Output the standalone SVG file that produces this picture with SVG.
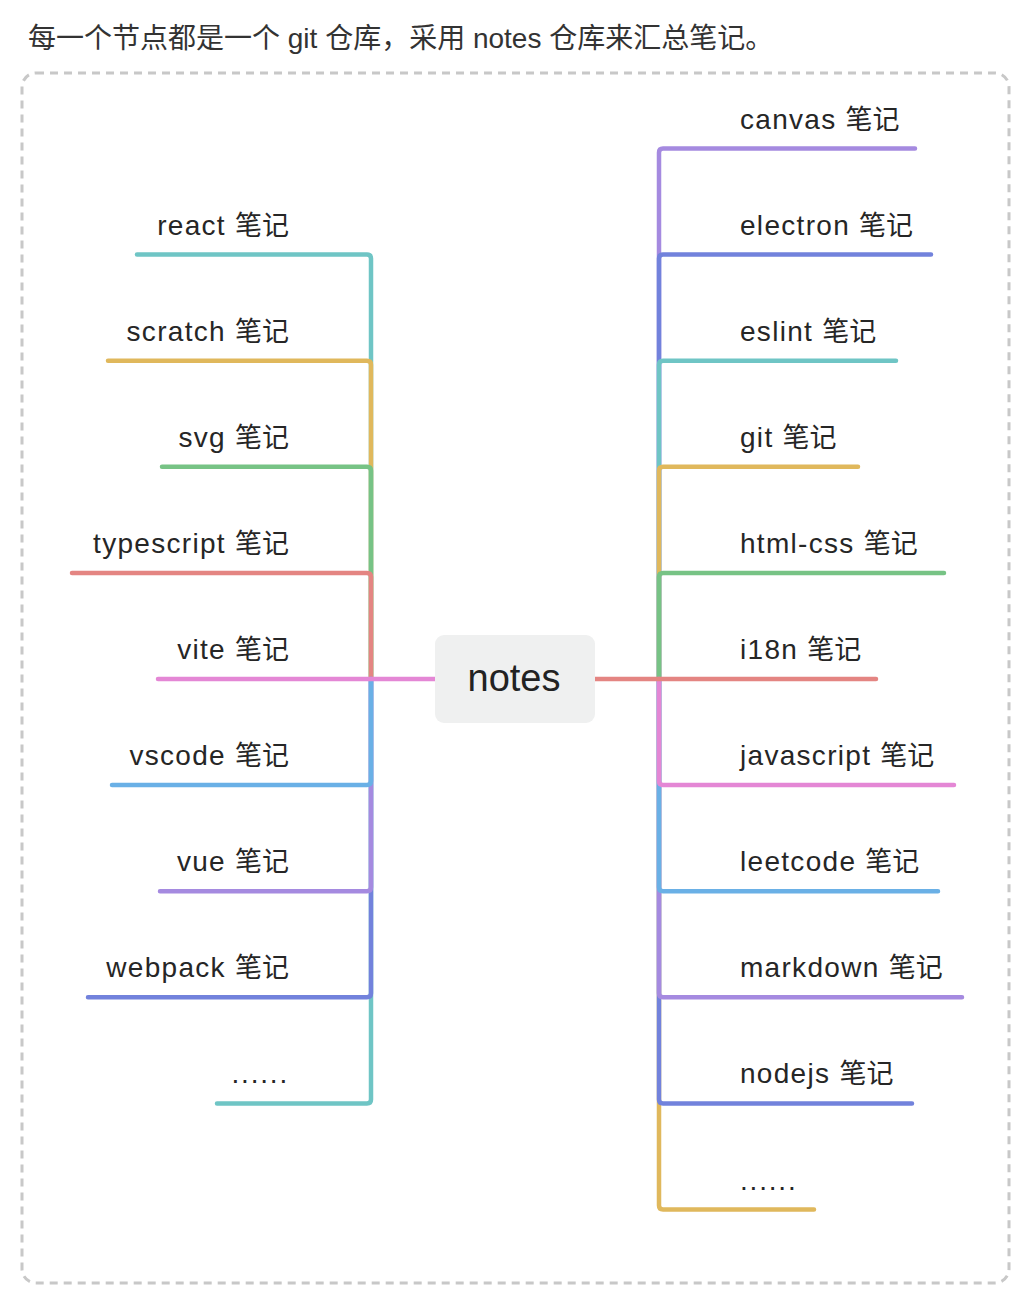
<svg xmlns="http://www.w3.org/2000/svg" width="1036" height="1304" viewBox="0 0 1036 1304">
<style>
  .t{font-family:"Liberation Sans","Noto Sans CJK SC",sans-serif;font-size:28px;fill:#262626}
  .t .en{letter-spacing:1.3px}
  .t .zh{font-size:27px;font-family:"Noto Sans CJK SC",sans-serif}
  .title{font-family:"Liberation Sans","Noto Sans CJK SC",sans-serif;font-size:28px;fill:#333}
  .l{text-anchor:end}
  .dots{letter-spacing:1.8px}
  .c{fill:none;stroke-width:4.5;stroke-linecap:round;stroke-linejoin:round}
  .teal{stroke:#6fc5c5}.yellow{stroke:#e0b85c}.green{stroke:#77c385}.red{stroke:#e48582}
  .pink{stroke:#e487d5}.blue{stroke:#6ab0e6}.purple{stroke:#a58ae0}.indigo{stroke:#7282dc}
</style>
<rect width="1036" height="1304" fill="#fff"/>
<text class="title" x="28" y="48">每一个节点都是一个 git 仓库，采用 notes 仓库来汇总笔记。</text>
<rect x="22" y="73" width="987" height="1210" rx="14" fill="none" stroke="#c8c8c8" stroke-width="3" stroke-dasharray="8 6"/>
<g id="connectors">
  <path class="c teal" d="M371 679 V258.6 Q371 254.6 367 254.6 H137"/>
  <path class="c yellow" d="M371 679 V364.7 Q371 360.7 367 360.7 H108"/>
  <path class="c green" d="M371 679 V470.8 Q371 466.8 367 466.8 H162"/>
  <path class="c red" d="M371 679 V576.9 Q371 572.9 367 572.9 H72"/>
  <path class="c teal" d="M371 679 V1099.4 Q371 1103.4 367 1103.4 H217"/>
  <path class="c indigo" d="M371 679 V993.3 Q371 997.3 367 997.3 H88"/>
  <path class="c purple" d="M371 679 V887.2 Q371 891.2 367 891.2 H160"/>
  <path class="c blue" d="M371 679 V781.1 Q371 785.1 367 785.1 H112"/>
  <path class="c pink" d="M435 679 H158"/>
  <path class="c purple" d="M659 679 V152.5 Q659 148.5 663 148.5 H915"/>
  <path class="c indigo" d="M659 679 V258.6 Q659 254.6 663 254.6 H931"/>
  <path class="c teal" d="M659 679 V364.7 Q659 360.7 663 360.7 H896"/>
  <path class="c yellow" d="M659 679 V470.8 Q659 466.8 663 466.8 H858"/>
  <path class="c green" d="M659 679 V576.9 Q659 572.9 663 572.9 H944"/>
  <path class="c yellow" d="M659 679 V1205.5 Q659 1209.5 663 1209.5 H814"/>
  <path class="c indigo" d="M659 679 V1099.4 Q659 1103.4 663 1103.4 H912"/>
  <path class="c purple" d="M659 679 V993.3 Q659 997.3 663 997.3 H962"/>
  <path class="c blue" d="M659 679 V887.2 Q659 891.2 663 891.2 H938"/>
  <path class="c pink" d="M659 679 V781.1 Q659 785.1 663 785.1 H954"/>
  <path class="c red" d="M595 679 H876"/>
</g>
<g id="notes">
  <rect x="435" y="635" width="160" height="88" rx="9" fill="#eff0f0"/>
  <text x="514" y="691" text-anchor="middle" style="font-family:'Liberation Sans',sans-serif;font-size:38px;fill:#222">notes</text>
</g>
<g id="react"><text class="t l" x="289" y="234.6"><tspan class="en">react </tspan><tspan class="zh">笔记</tspan></text></g>
<g id="scratch"><text class="t l" x="289" y="340.7"><tspan class="en">scratch </tspan><tspan class="zh">笔记</tspan></text></g>
<g id="svg"><text class="t l" x="289" y="446.8"><tspan class="en">svg </tspan><tspan class="zh">笔记</tspan></text></g>
<g id="typescript"><text class="t l" x="289" y="552.9"><tspan class="en">typescript </tspan><tspan class="zh">笔记</tspan></text></g>
<g id="vite"><text class="t l" x="289" y="659"><tspan class="en">vite </tspan><tspan class="zh">笔记</tspan></text></g>
<g id="vscode"><text class="t l" x="289" y="765.1"><tspan class="en">vscode </tspan><tspan class="zh">笔记</tspan></text></g>
<g id="vue"><text class="t l" x="289" y="871.2"><tspan class="en">vue </tspan><tspan class="zh">笔记</tspan></text></g>
<g id="webpack"><text class="t l" x="289" y="977.3"><tspan class="en">webpack </tspan><tspan class="zh">笔记</tspan></text></g>
<g id="more-left"><text class="t l dots" x="289" y="1083.4">......</text></g>
<g id="canvas"><text class="t" x="740" y="128.5"><tspan class="en">canvas </tspan><tspan class="zh">笔记</tspan></text></g>
<g id="electron"><text class="t" x="740" y="234.6"><tspan class="en">electron </tspan><tspan class="zh">笔记</tspan></text></g>
<g id="eslint"><text class="t" x="740" y="340.7"><tspan class="en">eslint </tspan><tspan class="zh">笔记</tspan></text></g>
<g id="git"><text class="t" x="740" y="446.8"><tspan class="en">git </tspan><tspan class="zh">笔记</tspan></text></g>
<g id="html-css"><text class="t" x="740" y="552.9"><tspan class="en">html-css </tspan><tspan class="zh">笔记</tspan></text></g>
<g id="i18n"><text class="t" x="740" y="659"><tspan class="en">i18n </tspan><tspan class="zh">笔记</tspan></text></g>
<g id="javascript"><text class="t" x="740" y="765.1"><tspan class="en">javascript </tspan><tspan class="zh">笔记</tspan></text></g>
<g id="leetcode"><text class="t" x="740" y="871.2"><tspan class="en">leetcode </tspan><tspan class="zh">笔记</tspan></text></g>
<g id="markdown"><text class="t" x="740" y="977.3"><tspan class="en">markdown </tspan><tspan class="zh">笔记</tspan></text></g>
<g id="nodejs"><text class="t" x="740" y="1083.4"><tspan class="en">nodejs </tspan><tspan class="zh">笔记</tspan></text></g>
<g id="more-right"><text class="t dots" x="740" y="1189.5">......</text></g>
</svg>
